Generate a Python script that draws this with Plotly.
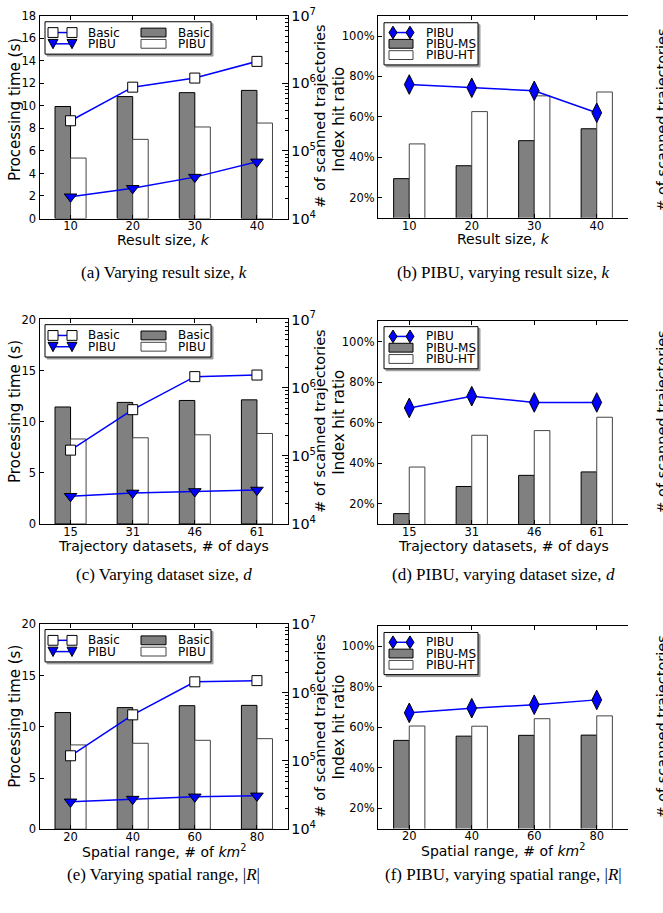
import plotly.graph_objects as go

W, H = 663, 913

# ---------------- data ----------------
k_sizes = ["10", "20", "30", "40"]
a_time_basic = [9.95, 10.83, 11.18, 11.38]
a_time_pibu = [5.37, 7.03, 8.13, 8.48]
a_scan_basic = [2.8e5, 8.8e5, 1.2e6, 2.12e6]
a_scan_pibu = [2.1e4, 2.8e4, 4.1e4, 6.9e4]

b_hit_pibu = [0.760, 0.744, 0.729, 0.620]
b_hit_ms = [0.294, 0.358, 0.482, 0.541]
b_hit_ht = [0.466, 0.626, 0.704, 0.723]

days = ["15", "31", "46", "61"]
c_time_basic = [11.44, 11.89, 12.08, 12.14]
c_time_pibu = [8.31, 8.43, 8.72, 8.85]
c_scan_basic = [1.21e5, 4.75e5, 1.45e6, 1.53e6]
c_scan_pibu = [2.55e4, 2.85e4, 3.0e4, 3.15e4]

d_hit_pibu = [0.673, 0.731, 0.700, 0.700]
d_hit_ms = [0.151, 0.285, 0.340, 0.357]
d_hit_ht = [0.381, 0.538, 0.561, 0.627]

ranges_km2 = ["20", "40", "60", "80"]
e_time_basic = [11.39, 11.87, 12.06, 12.09]
e_time_pibu = [8.23, 8.39, 8.68, 8.84]
e_scan_basic = [1.19e5, 4.73e5, 1.44e6, 1.50e6]
e_scan_pibu = [2.52e4, 2.76e4, 2.98e4, 3.08e4]

f_hit_pibu = [0.671, 0.694, 0.711, 0.735]
f_hit_ms = [0.535, 0.556, 0.560, 0.561]
f_hit_ht = [0.606, 0.605, 0.642, 0.656]

pct_vals = [0.2, 0.4, 0.6, 0.8, 1.0]
pct_text = ["20%", "40%", "60%", "80%", "100%"]

captions = [
    "(a) Varying result size, <i>k</i>",
    "(b) PIBU, varying result size, <i>k</i>",
    "(c) Varying dataset size, <i>d</i>",
    "(d) PIBU, varying dataset size, <i>d</i>",
    "(e) Varying spatial range, |<i>R</i>|",
    "(f) PIBU, varying spatial range, |<i>R</i>|",
]
xtitles = [
    "Result size, <i>k</i>",
    "Result size, <i>k</i>",
    "Trajectory datasets, # of days",
    "Trajectory datasets, # of days",
    "Spatial range, # of <i>km</i><sup>2</sup>",
    "Spatial range, # of <i>km</i><sup>2</sup>",
]

# ---------------- style / layout ----------------
FONT = "DejaVu Sans"
SERIF = "Liberation Serif"
BLUE = "#0000ff"
GRAY = "#808080"
TICK = 11.5
YTITLE = 15
RTITLE = 14.5
XTITLE = 14

# axis boxes in pixels: left, right, top, bottom
boxes = [
    (39.5, 288, 6, 212.7),
    (378, 628, 6, 212),
    (39.5, 288, 315.7, 524.3),
    (378, 628, 317.7, 524.3),
    (39.5, 288, 626.7, 835.7),
    (378, 628, 628.3, 835),
]

def px(x):
    return x / W

def py(y):
    return 1 - y / H

fig = go.Figure()
shapes = []
annos = []

def ax_names(n):
    xs = "x" if n == 1 else f"x{n}"
    ys = "y" if n == 1 else f"y{n}"
    yr = f"y{n + 6}"
    return xs, ys, yr

def key(ref):
    return ref[0] + "axis" + ref[1:]

def base_axes(n, cats, ymode):
    L, R, T, B = boxes[n - 1]
    xs, ys, yr = ax_names(n)
    lay = {}
    lay[key(xs)] = dict(
        domain=[px(L), px(R)], anchor=ys, type="category",
        categoryorder="array", categoryarray=cats,
        range=[-0.5, 3.5], showline=True, linecolor="black", linewidth=1,
        mirror="ticks", ticks="inside", ticklen=4, tickcolor="black",
        ticklabelstandoff=-3,
        tickfont=dict(family=FONT, size=TICK, color="black"),
        showgrid=False, zeroline=False, fixedrange=True,
    )
    yl = dict(
        domain=[py(B), py(T)], anchor=xs, showline=True, linecolor="black",
        linewidth=1, ticks="inside", ticklen=4, tickcolor="black",
        tickfont=dict(family=FONT, size=TICK, color="black"),
        showgrid=False, zeroline=False, fixedrange=True,
    )
    if ymode == "pct":
        yl.update(range=[0.1, 1.1], tickvals=pct_vals, ticktext=pct_text)
        rrange = [4, 6]
    else:
        yl.update(range=[0, ymode[0]], dtick=ymode[1])
        rrange = [4, 7]
    lay[key(ys)] = yl
    lay[key(yr)] = dict(
        overlaying=ys, side="right", anchor=xs, type="log", range=rrange,
        dtick=1, exponentformat="power", showline=True, linecolor="black",
        linewidth=1, ticks="inside", ticklen=6, tickcolor="black",
        minor=dict(ticks="inside", ticklen=3, tickcolor="black", dtick="D1", showgrid=False),
        tickfont=dict(family=FONT, size=TICK, color="black"),
        showgrid=False, zeroline=False, fixedrange=True,
    )
    fig.update_layout(**lay)

def time_panel(n, cats, tb, tp, sb, sp, ymode):
    xs, ys, yr = ax_names(n)
    fig.add_trace(go.Bar(x=cats, y=tb, width=0.25, offset=-0.25,
                         marker=dict(color=GRAY, line=dict(color="black", width=1)),
                         xaxis=xs, yaxis=ys, showlegend=False, name="Basic"))
    fig.add_trace(go.Bar(x=cats, y=tp, width=0.25, offset=0,
                         marker=dict(color="white", line=dict(color="#444444", width=1)),
                         xaxis=xs, yaxis=ys, showlegend=False, name="PIBU"))
    fig.add_trace(go.Scatter(x=cats, y=sb, mode="lines+markers",
                             line=dict(color=BLUE, width=1.5),
                             marker=dict(symbol="square", size=10, color="white",
                                         line=dict(color="black", width=1)),
                             xaxis=xs, yaxis=yr, showlegend=False, name="Basic"))
    fig.add_trace(go.Scatter(x=cats, y=sp, mode="lines+markers",
                             line=dict(color=BLUE, width=1.5),
                             marker=dict(symbol="triangle-down", size=11, color=BLUE,
                                         line=dict(color="black", width=1)),
                             xaxis=xs, yaxis=yr, showlegend=False, name="PIBU"))
    base_axes(n, cats, ymode)

def hit_panel(n, cats, hp, hm, hh):
    xs, ys, yr = ax_names(n)
    fig.add_trace(go.Bar(x=cats, y=hm, width=0.25, offset=-0.25,
                         marker=dict(color=GRAY, line=dict(color="black", width=1)),
                         xaxis=xs, yaxis=ys, showlegend=False, name="PIBU-MS"))
    fig.add_trace(go.Bar(x=cats, y=hh, width=0.25, offset=0,
                         marker=dict(color="white", line=dict(color="#444444", width=1)),
                         xaxis=xs, yaxis=ys, showlegend=False, name="PIBU-HT"))
    fig.add_trace(go.Scatter(x=cats, y=hp, mode="lines+markers",
                             line=dict(color=BLUE, width=1.5),
                             marker=dict(symbol="diamond-tall", size=14, color=BLUE,
                                         line=dict(color="black", width=1)),
                             xaxis=xs, yaxis=ys, showlegend=False, name="PIBU"))
    base_axes(n, cats, "pct")

time_panel(1, k_sizes, a_time_basic, a_time_pibu, a_scan_basic, a_scan_pibu, (18, 2))
hit_panel(2, k_sizes, b_hit_pibu, b_hit_ms, b_hit_ht)
time_panel(3, days, c_time_basic, c_time_pibu, c_scan_basic, c_scan_pibu, (20, 5))
hit_panel(4, days, d_hit_pibu, d_hit_ms, d_hit_ht)
time_panel(5, ranges_km2, e_time_basic, e_time_pibu, e_scan_basic, e_scan_pibu, (20, 5))
hit_panel(6, ranges_km2, f_hit_pibu, f_hit_ms, f_hit_ht)

# ---------------- legends (drawn as keys) ----------------
def rect(x0, y0, x1, y1, fill, line="black", lw=1):
    shapes.append(dict(type="rect", xref="paper", yref="paper",
                       x0=px(x0), x1=px(x1), y0=py(y1), y1=py(y0),
                       fillcolor=fill, line=dict(color=line, width=lw), layer="above"))

def seg(x0, x1, y):
    shapes.append(dict(type="line", xref="paper", yref="paper",
                       x0=px(x0), x1=px(x1), y0=py(y), y1=py(y),
                       line=dict(color=BLUE, width=1.5), layer="above"))

def poly(pts, fill):
    d = "M " + " L ".join(f"{px(a):.5f},{py(b):.5f}" for a, b in pts) + " Z"
    shapes.append(dict(type="path", xref="paper", yref="paper", path=d,
                       fillcolor=fill, line=dict(color="black", width=1), layer="above"))

def text(x, y, s, size=12, anchor="left"):
    annos.append(dict(xref="paper", yref="paper", x=px(x), y=py(y), text=s,
                      showarrow=False, xanchor=anchor, yanchor="middle",
                      font=dict(family=FONT, size=size, color="black")))

def legend_time(bx, by):
    rect(bx + 2, by + 2, bx + 168, by + 35, "#9a9a9a", line="#9a9a9a")
    rect(bx, by, bx + 166, by + 33, "white")
    r1, r2 = by + 11, by + 22.5
    seg(bx + 8, bx + 27, r1)
    seg(bx + 8, bx + 27, r2)
    for cx in (bx + 8, bx + 27):
        rect(cx - 5, r1 - 5, cx + 5, r1 + 5, "white")
        poly([(cx - 5, r2 - 4.5), (cx + 5, r2 - 4.5), (cx, r2 + 5)], BLUE)
    text(bx + 41, r1, "Basic")
    text(bx + 41, r2, "PIBU")
    rect(bx + 96, r1 - 4.5, bx + 121, r1 + 4.5, GRAY)
    rect(bx + 96, r2 - 4.5, bx + 121, r2 + 4.5, "white", line="#444444")
    text(bx + 131, r1, "Basic")
    text(bx + 131, r2, "PIBU")

def legend_hit(bx, by):
    rect(bx + 2, by + 2, bx + 96, by + 45, "#9a9a9a", line="#9a9a9a")
    rect(bx, by, bx + 94, by + 43, "white")
    r1, r2, r3 = by + 10, by + 21.5, by + 33
    seg(bx + 9, bx + 26, r1)
    for cx in (bx + 9, bx + 26):
        poly([(cx, r1 - 6.5), (cx + 4, r1), (cx, r1 + 6.5), (cx - 4, r1)], BLUE)
    rect(bx + 5, r2 - 4.5, bx + 29, r2 + 4.5, GRAY)
    rect(bx + 5, r3 - 4.5, bx + 29, r3 + 4.5, "white", line="#444444")
    text(bx + 40, r1, "PIBU")
    text(bx + 40, r2, "PIBU-MS")
    text(bx + 40, r3, "PIBU-HT")

legend_time(45, 12)
legend_hit(384, 13)
legend_time(45, 321)
legend_hit(384, 323)
legend_time(45, 632)
legend_hit(384, 635)

# ---------------- titles and captions ----------------
def vtitle(x, y, s, size):
    annos.append(dict(xref="paper", yref="paper", x=px(x), y=py(y), text=s,
                      showarrow=False, textangle=-90, xanchor="center", yanchor="middle",
                      font=dict(family=FONT, size=size, color="black")))

cap_y = [268, 268, 576, 576, 882, 882]
left_title_y = [102, 112, 410, 421, 721, 732]
right_title_y = [109, 113, 420, 421, 731, 732]
for i in range(6):
    L, R, T, B = boxes[i]
    cx = (L + R) / 2
    annos.append(dict(xref="paper", yref="paper", x=px(cx), y=py(B + 22), text=xtitles[i],
                      showarrow=False, xanchor="center", yanchor="middle",
                      font=dict(family=FONT, size=XTITLE, color="black")))
    annos.append(dict(xref="paper", yref="paper", x=px(cx), y=py(cap_y[i]), text=captions[i],
                      showarrow=False, xanchor="center", yanchor="middle",
                      font=dict(family=SERIF, size=17, color="black")))
    if i % 2 == 0:
        vtitle(15, left_title_y[i], "Processing time (s)", YTITLE)
        vtitle(320, right_title_y[i], "# of scanned trajectories", RTITLE)
    else:
        vtitle(339, left_title_y[i], "Index hit ratio", YTITLE)
        vtitle(662, right_title_y[i], "# of scanned trajectories", RTITLE)

fig.update_layout(
    width=W, height=H, autosize=False,
    margin=dict(l=0, r=0, t=0, b=0),
    paper_bgcolor="white", plot_bgcolor="white",
    barmode="overlay", showlegend=False,
    shapes=shapes, annotations=annos,
    font=dict(family=FONT, size=TICK, color="black"),
)

fig.write_html("out.html", config={"displayModeBar": False},
               post_script="document.body.style.margin='0';document.body.style.overflow='hidden';")
